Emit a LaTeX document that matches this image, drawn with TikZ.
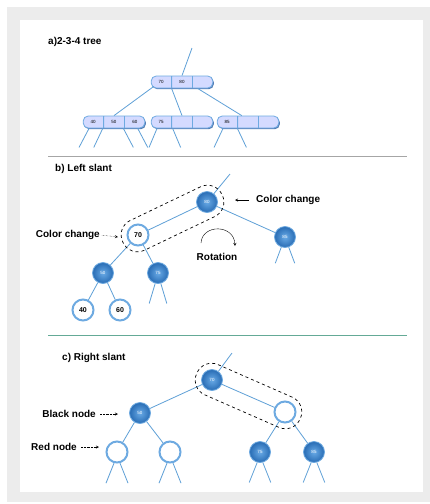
\documentclass[tikz,border=0pt]{standalone}
\usepackage{fontspec}
\setmainfont{Liberation Sans}
\usetikzlibrary{shapes.multipart,shadows,calc}
\definecolor{edgeblue}{RGB}{95,160,215}
\definecolor{ringblue}{RGB}{110,170,225}
\definecolor{ballin}{RGB}{105,170,230}
\definecolor{ballout}{RGB}{40,108,180}
\definecolor{pillfill}{RGB}{212,218,255}
\definecolor{shadowblue}{RGB}{40,90,160}
\definecolor{rulegreen}{RGB}{100,170,150}
\tikzset{
  quad/.style={rectangle split, rectangle split horizontal, rectangle split parts=3,
    draw=ringblue, line width=0.8pt, fill=pillfill, rounded corners=5pt,
    minimum height=12pt, inner xsep=0pt, inner ysep=0pt,
    font=\fontsize{4.5}{5}\selectfont,
    drop shadow={shadow xshift=1pt, shadow yshift=-1.2pt, fill=shadowblue, opacity=0.8}},
  blacknode/.style={circle, minimum size=21pt, inner sep=0pt, shading=radial,
    inner color=ballin, outer color=ballout,
    draw=ringblue, line width=0.8pt, text=white, font=\fontsize{4.5}{5}\selectfont},
  rednode/.style={circle, minimum size=21pt, inner sep=0pt, fill=white,
    draw=ringblue, line width=2pt, font=\fontsize{7}{8}\selectfont\bfseries},
  link/.style={edgeblue, line width=0.8pt},
  slant/.style={draw, dashed, line width=0.7pt, rectangle, rounded corners=16pt,
    minimum height=33pt},
  lbl/.style={font=\fontsize{10}{12}\selectfont\bfseries, inner sep=0pt},
}
\begin{document}
\begin{tikzpicture}[x=1pt,y=-1pt,>=stealth]
  \useasboundingbox (0,0) rectangle (430,504);
  \fill[gray!15] (7,7) rectangle (430,502);
  \fill[white] (20,20) rectangle (423,492);
  \draw[gray!70,line width=0.8pt] (48,156) -- (407,156);
  \draw[rulegreen,line width=0.8pt] (48,335) -- (407,335);

  % a) 2-3-4 tree
  \node[lbl,anchor=west] (ta) at (48,42) {a)2-3-4 tree};
  \node[quad] (q0) at (182,82) {\makebox[20pt]{70}\nodepart{two}\makebox[20pt]{80}\nodepart{three}\makebox[20pt]{}};
  \node[quad] (q1) at (114,122) {\makebox[20pt]{40}\nodepart{two}\makebox[20pt]{50}\nodepart{three}\makebox[20pt]{60}};
  \node[quad] (q2) at (182,122) {\makebox[20pt]{75}\nodepart{two}\makebox[20pt]{}\nodepart{three}\makebox[20pt]{}};
  \node[quad] (q3) at (248,122) {\makebox[20pt]{85}\nodepart{two}\makebox[20pt]{}\nodepart{three}\makebox[20pt]{}};
  \coordinate (atop) at (192,48);
  \draw[link] (atop) -- (q0.north);
  \draw[link] ($(q0.south west)+(3,-2)$) -- (q1.two north);
  \draw[link] ($(q0.south west)!1/3!(q0.south east)$) -- (q2.north);
  \draw[link] ($(q0.south west)!.75!(q0.south east)$) -- ($(q3.north west)!.4!(q3.north east)$);
  \foreach \n/\f/\dx in {q1/.1/-10, q1/.32/-9, q1/.65/10, q1/.88/10,
                         q2/.1/-8, q2/.35/8, q3/.1/-9, q3/.33/9}
    \draw[link] ($(\n.south west)!\f!(\n.south east)$) -- ++(\dx,19);

  % b) left slant
  \node[lbl,anchor=west] (tb) at (55,169) {b) Left slant};
  \node[blacknode] (b80) at (207,202) {80};
  \node[rednode] (b70) at (138,235) {70};
  \node[blacknode] (b85) at (285,237) {85};
  \node[blacknode] (b50) at (103,273) {50};
  \node[blacknode] (b75) at (158,273) {75};
  \node[rednode] (b40) at (83,310) {40};
  \node[rednode] (b60) at (120,310) {60};
  \coordinate (btop) at (230,174);
  \draw[link] (btop) -- (b80);
  \draw[link] (b80) -- (b70);
  \draw[link] (b80) -- (b85);
  \draw[link] (b70) -- (b50);
  \draw[link] (b70) -- (b75);
  \draw[link] (b50) -- (b40);
  \draw[link] (b50) -- (b60);
  \draw[link] (b75.-105) -- ++(-6,20);
  \draw[link] (b75.-75) -- ++(6,20);
  \draw[link] (b85.-110) -- ++(-6,16);
  \draw[link] (b85.-70) -- ++(6,16);
  \node[slant,minimum width=110pt,rotate=25.6] (bgrp) at ($(b70)!.5!(b80)$) {};
  \node[lbl,anchor=west] (cc1) at (256,200) {Color change};
  \coordinate (cc1tip) at (235,200);
  \draw[->,shorten <=7pt] (cc1.west) -- (cc1tip);
  \node[lbl,anchor=east] (cc2) at (100,235) {Color change};
  \coordinate (cc2tip) at (118,237);
  \draw[->,densely dotted,shorten <=2pt] (cc2.east) -- (cc2tip);
  \node[lbl] (rot) at (217,257) {Rotation};
  \coordinate (rota) at (201,243);
  \coordinate (rotb) at (235,246);
  \draw[->] (rota) .. controls (202,224) and (234,224) .. (rotb);

  % c) right slant
  \node[lbl,anchor=west] (tc) at (62,358) {c) Right slant};
  \node[blacknode] (c70) at (212,380) {70};
  \node[blacknode] (c50) at (140,413) {50};
  \node[rednode] (c80) at (285,412) {};
  \node[rednode] (c40) at (117,452) {};
  \node[rednode] (c60) at (170,452) {};
  \node[blacknode] (c75) at (260,452) {75};
  \node[blacknode] (c85) at (314,452) {85};
  \coordinate (ctop) at (232,353);
  \draw[link] (ctop) -- (c70);
  \draw[link] (c70) -- (c50);
  \draw[link] (c70) -- (c80);
  \draw[link] (c50) -- (c40);
  \draw[link] (c50) -- (c60);
  \draw[link] (c80) -- (c75);
  \draw[link] (c80) -- (c85);
  \foreach \n in {c40,c60,c75,c85} {
    \draw[link] (\n.-105) -- ++(-8,20);
    \draw[link] (\n.-75) -- ++(8,20);
  }
  \node[slant,minimum width=113pt,rotate=-23.7] (cgrp) at ($(c70)!.5!(c80)$) {};
  \node[lbl,anchor=east] (bn) at (96,414) {Black node};
  \coordinate (bntip) at (118,414);
  \draw[->,densely dotted,shorten <=4pt] (bn.east) -- (bntip);
  \node[lbl,anchor=east] (rn) at (77,447) {Red node};
  \coordinate (rntip) at (99,447);
  \draw[->,densely dotted,shorten <=4pt] (rn.east) -- (rntip);
\end{tikzpicture}
\end{document}
